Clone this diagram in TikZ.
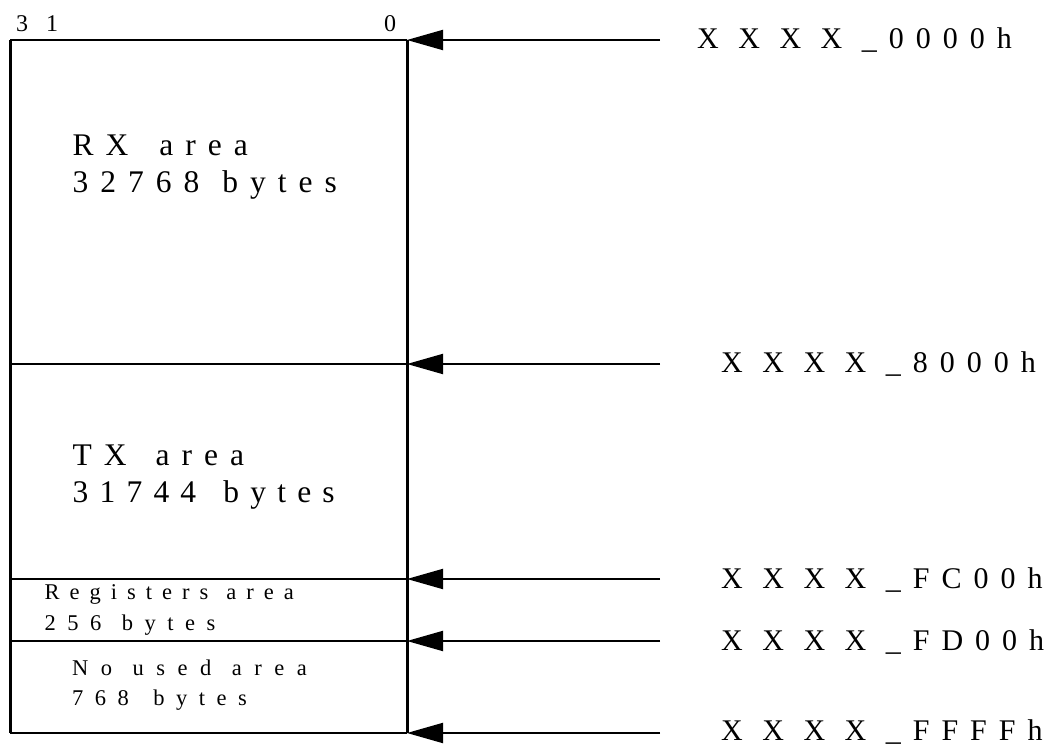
\documentclass[tikz,border=0pt]{standalone}
\usepackage{fontspec}
\setmainfont{Liberation Serif}
\usetikzlibrary{arrows.meta}
\ExplSyntaxOn
\cs_new_protected:Npn \rsk_spaced:nnn #1#2#3
  {
    \seq_set_split:Nnn \l_tmpa_seq {~} {#3}
    \bool_set_true:N \l_tmpa_bool
    \seq_map_inline:Nn \l_tmpa_seq
      {
        \bool_if:NF \l_tmpa_bool { \skip_horizontal:n { #1 + #2 } }
        \bool_set_false:N \l_tmpa_bool
        \bool_set_true:N \l_tmpb_bool
        \tl_map_inline:nn {##1}
          {
            \bool_if:NF \l_tmpb_bool { \skip_horizontal:n { #1 } }
            \bool_set_false:N \l_tmpb_bool
            ####1
          }
      }
  }
\NewDocumentCommand \spaced { m m m } { \rsk_spaced:nnn {#1} {#2} {#3} }
\ExplSyntaxOff
\tikzset{
  lbl/.style={inner sep=0pt, anchor=base west},
  bigtxt/.style={lbl, font=\fontsize{31.5}{36}\selectfont},
  smalltxt/.style={lbl, font=\fontsize{22.5}{26}\selectfont},
  addr/.style={lbl, font=\fontsize{30}{36}\selectfont},
  bittxt/.style={lbl, font=\fontsize{24}{28}\selectfont},
  hline/.style={line width=2pt},
  vline/.style={line width=3pt},
  ptr/.style={line width=2pt, -{Triangle[length=36pt, width=20pt]}},
}
\begin{document}
\begin{tikzpicture}[x=1pt,y=-1pt]
\useasboundingbox (0,0) rectangle (1062,746);
% box corners and dividers
\coordinate (tl) at (10,40);   \coordinate (tr) at (407,40);
\coordinate (d1l) at (10,364); \coordinate (d1r) at (407,364);
\coordinate (d2l) at (10,579); \coordinate (d2r) at (407,579);
\coordinate (d3l) at (10,641); \coordinate (d3r) at (407,641);
\coordinate (bl) at (10,733);  \coordinate (br) at (407,733);
\draw[hline] (tl) -- (tr);
\draw[hline] (d1l) -- (d1r);
\draw[hline] (d2l) -- (d2r);
\draw[hline] (d3l) -- (d3r);
\draw[hline] (bl) -- (br);
\draw[vline] (tl) -- (bl);
\draw[vline] (tr) -- (br);
% bit numbers
\node[bittxt] (b31) at (16,32) {\spaced{18pt}{0pt}{31}};
\node[bittxt] (b0) at (384,32) {0};
% area labels
\node[bigtxt] (rx1) at (72.5,156) {\spaced{12pt}{19pt}{RX area}};
\node[bigtxt] (rx2) at (72.5,193) {\spaced{12pt}{11pt}{32768 bytes}};
\node[bigtxt] (tx1) at (72.5,465) {\spaced{12pt}{17pt}{TX area}};
\node[bigtxt] (tx2) at (72.5,502) {\spaced{11.2pt}{16pt}{31744 bytes}};
\node[smalltxt] (rg1) at (44.5,599) {\spaced{10pt}{8pt}{Registers area}};
\node[smalltxt] (rg2) at (44.5,630) {\spaced{11.5pt}{9pt}{256 bytes}};
\node[smalltxt] (nu1) at (72,675) {\spaced{12.5pt}{8pt}{No used area}};
\node[smalltxt] (nu2) at (72,705) {\spaced{11.5pt}{13pt}{768 bytes}};
% arrow start points
\coordinate (s0) at (660,40);
\coordinate (s1) at (660,364);
\coordinate (s2) at (660,579);
\coordinate (s3) at (660,641);
\coordinate (s4) at (660,733);
\draw[ptr] (s0) -- (tr);
\draw[ptr] (s1) -- (d1r);
\draw[ptr] (s2) -- (d2r);
\draw[ptr] (s3) -- (d3r);
\draw[ptr] (s4) -- (br);
% addresses
\node[addr] (a0) at (697,49) {\spaced{12pt}{7.5pt}{X X X X \_0000h}};
\node[addr] (a1) at (721,372) {\spaced{12pt}{7.5pt}{X X X X \_8000h}};
\node[addr] (a2) at (721,588) {\spaced{12pt}{7.5pt}{X X X X \_FC00h}};
\node[addr] (a3) at (721,650) {\spaced{12pt}{7.5pt}{X X X X \_FD00h}};
\node[addr] (a4) at (721,740) {\spaced{12pt}{7.5pt}{X X X X \_FFFFh}};
\end{tikzpicture}
\end{document}
